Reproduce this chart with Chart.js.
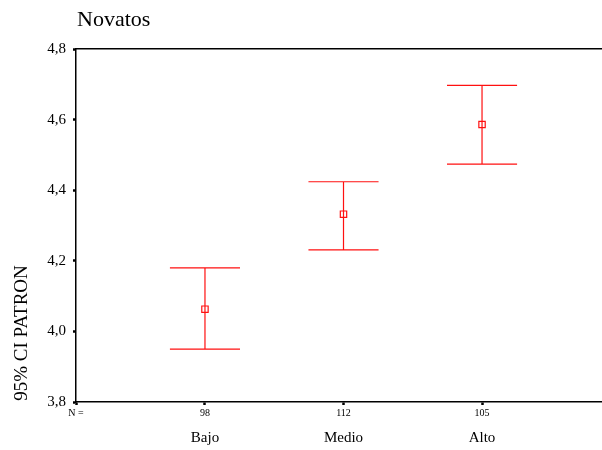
<!DOCTYPE html>
<html>
<head>
<meta charset="utf-8">
<script src="https://cdn.jsdelivr.net/npm/chart.js@4/dist/chart.umd.min.js"></script>
<style>
  html, body { margin: 0; padding: 0; background: #fff; }
  #wrap { width: 602px; height: 450px; }
</style>
</head>
<body>
<div id="wrap"><canvas id="chart" width="602" height="450"></canvas></div>
<script>
// groups along the x axis and their sample sizes
const groups = ['Bajo', 'Medio', 'Alto'];
const counts = [98, 112, 105];
// mean and 95% confidence interval of PATRON
const means = [4.063, 4.332, 4.586];
const lower = [3.950, 4.231, 4.474];
const upper = [4.180, 4.424, 4.697];
const yTicks = [3.8, 4.0, 4.2, 4.4, 4.6, 4.8];

const X_MIN = 0.069, X_MAX = 3.866;
const RED = '#ff1010';
const SERIF = '"Liberation Serif", "Times New Roman", serif';

// whiskers and caps for each interval
const errorBars = {
  id: 'errorBars',
  beforeDatasetsDraw(chart) {
    const { ctx, scales: { x, y } } = chart;
    ctx.save();
    ctx.strokeStyle = RED;
    ctx.lineWidth = 1.2;
    groups.forEach((g, i) => {
      const cx = x.getPixelForValue(i + 1);
      const half = x.getPixelForValue(i + 1 + 0.253) - cx;
      const top = y.getPixelForValue(upper[i]);
      const bot = y.getPixelForValue(lower[i]);
      ctx.beginPath();
      ctx.moveTo(cx, top); ctx.lineTo(cx, bot);
      ctx.moveTo(cx - half, top); ctx.lineTo(cx + half, top);
      ctx.moveTo(cx - half, bot); ctx.lineTo(cx + half, bot);
      ctx.stroke();
    });
    ctx.restore();
  }
};

// heading and rotated y title
const texts = {
  id: 'texts',
  afterDraw(chart) {
    const ctx = chart.ctx;
    ctx.save();
    ctx.fillStyle = '#000';
    ctx.font = '22px ' + SERIF;
    ctx.textBaseline = 'middle';
    ctx.textAlign = 'left';
    ctx.fillText('Novatos', 77, 20);
    ctx.translate(22, 333);
    ctx.rotate(-Math.PI / 2);
    ctx.textAlign = 'center';
    ctx.font = '19px ' + SERIF;
    ctx.fillText('95% CI PATRON', 0, 0);
    ctx.restore();
  }
};

new Chart(document.getElementById('chart'), {
  type: 'scatter',
  data: {
    datasets: [{
      data: groups.map((g, i) => ({ x: i + 1, y: means[i] })),
      pointStyle: 'rect',
      pointRadius: 4.5,
      pointHoverRadius: 4.5,
      borderColor: RED,
      borderWidth: 1.2,
      backgroundColor: 'rgba(0,0,0,0)'
    }]
  },
  options: {
    responsive: false,
    animation: false,
    events: [],
    layout: { autoPadding: false, padding: { top: 49, right: 0, bottom: 0, left: 0 } },
    plugins: { legend: { display: false }, tooltip: { enabled: false } },
    scales: {
      x: {
        type: 'linear',
        position: 'bottom',
        min: X_MIN,
        max: X_MAX,
        afterBuildTicks: s => { s.ticks = [{ value: X_MIN }, { value: 1 }, { value: 2 }, { value: 3 }]; },
        afterFit: s => { s.height = 22; },
        ticks: {
          autoSkip: false,
          maxRotation: 0,
          padding: 2,
          color: '#000',
          font: { family: SERIF, size: 10 },
          callback: (v, i) => i === 0 ? 'N =' : String(counts[i - 1])
        },
        grid: { drawOnChartArea: false, tickLength: 3, tickWidth: 2.5, color: '#000' },
        border: { color: '#000', width: 1.5 }
      },
      x2: {
        type: 'linear',
        position: 'bottom',
        min: X_MIN,
        max: X_MAX,
        afterBuildTicks: s => { s.ticks = [{ value: 1 }, { value: 2 }, { value: 3 }]; },
        afterFit: s => { s.height = 26; },
        ticks: {
          autoSkip: false,
          maxRotation: 0,
          padding: 5,
          color: '#000',
          font: { family: SERIF, size: 15 },
          callback: (v, i) => groups[i]
        },
        grid: { display: false, drawTicks: false },
        border: { display: false }
      },
      xTop: {
        type: 'linear',
        position: 'top',
        min: X_MIN,
        max: X_MAX,
        afterFit: s => { s.height = 0; },
        ticks: { display: false },
        grid: { drawOnChartArea: false, drawTicks: false },
        border: { color: '#000', width: 1.5 }
      },
      y: {
        min: 3.8,
        max: 4.8,
        afterBuildTicks: s => { s.ticks = yTicks.map(v => ({ value: v })); },
        afterFit: s => { s.width = 76; },
        ticks: {
          padding: 7,
          color: '#000',
          font: { family: SERIF, size: 15 },
          callback: v => v.toFixed(1).replace('.', ',')
        },
        grid: { drawOnChartArea: false, tickLength: 3, tickWidth: 2.5, color: '#000' },
        border: { color: '#000', width: 1.5 }
      }
    }
  },
  plugins: [errorBars, texts]
});
</script>
</body>
</html>
